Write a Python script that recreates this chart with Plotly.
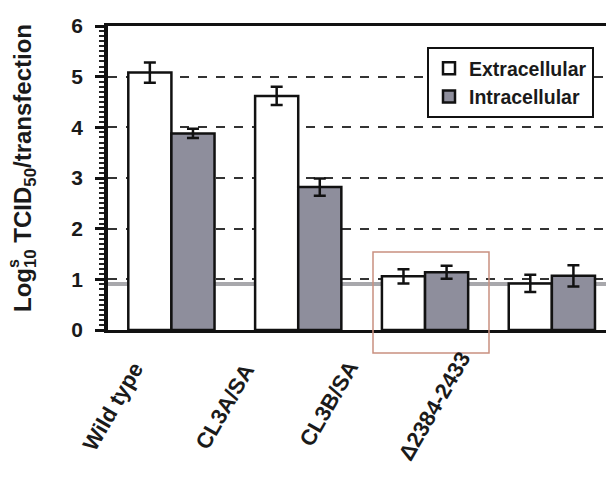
import plotly.graph_objects as go

categories = ["Wild type", "CL3A/SA", "CL3B/SA", "\u03942384-2433"]
extracellular = [5.08, 4.62, 1.06, 0.92]
extracellular_err = [0.2, 0.18, 0.14, 0.17]
intracellular = [3.88, 2.82, 1.14, 1.07]
intracellular_err = [0.09, 0.17, 0.13, 0.21]
y_ticks = [0, 1, 2, 3, 4, 5, 6]

FONT = "Arial, Liberation Sans, sans-serif"
OFF = 8  # page body margin of the browser
W, H = 614 - OFF, 491 - OFF
# plot area in page pixels: left 108, top 26, bottom 330, right at window edge
L, R, T, B = 108 - OFF, 0, 26 - OFF, H - (330 - OFF)
PW, PH = W - L - R, H - T - B


def px_x(px):
    return (px - OFF - L) / PW


def px_y(py):
    return (H - B - (py - OFF)) / PH


xidx = list(range(len(categories)))

fig = go.Figure()
fig.add_trace(go.Bar(
    name="Extracellular", x=xidx, y=extracellular,
    marker=dict(color="white", line=dict(color="#111", width=2.5)),
    error_y=dict(type="data", array=extracellular_err, color="#111", thickness=2.5, width=6),
))
fig.add_trace(go.Bar(
    name="Intracellular", x=xidx, y=intracellular,
    marker=dict(color="#8e8e9c", line=dict(color="#111", width=2.5)),
    error_y=dict(type="data", array=intracellular_err, color="#111", thickness=2.5, width=6),
))

# grey band near detection limit
fig.add_shape(type="line", xref="paper", yref="y", x0=0, x1=1, y0=0.91, y1=0.91,
              line=dict(color="#a8a8ac", width=4), layer="below")
# reddish highlight box around CL3B/SA
fig.add_shape(type="rect", xref="paper", yref="paper",
              x0=px_x(373), x1=px_x(489), y0=px_y(353), y1=px_y(252),
              line=dict(color="#c99080", width=1.5), layer="above")

# x category labels (offset from bars as in original)
label_end_px = [(151, 355), (262, 357), (366, 354), (478, 345)]
for cat, (lx, ly) in zip(categories, label_end_px):
    fig.add_annotation(text=cat, xref="paper", yref="paper", x=px_x(lx), y=px_y(ly),
                       xanchor="right", yanchor="top", textangle=-60, showarrow=False,
                       font=dict(family=FONT, size=22, color="#1a1a1a", weight="bold"))

# y title
fig.add_annotation(text="Log<sub>10</sub> TCID<sub>50</sub>/transfection", xref="paper", yref="paper",
                   x=px_x(24), y=px_y(168), xanchor="center", yanchor="middle", textangle=-90,
                   showarrow=False, font=dict(family=FONT, size=24, color="#1a1a1a", weight="bold"))
fig.add_annotation(text="s", xref="paper", yref="paper",
                   x=px_x(13), y=px_y(264), xanchor="center", yanchor="middle", textangle=-90,
                   showarrow=False, font=dict(family=FONT, size=16, color="#1a1a1a", weight="bold"))

fig.update_layout(
    width=W, height=H,
    margin=dict(l=L, r=R, t=T, b=B, pad=0, autoexpand=False),
    paper_bgcolor="white", plot_bgcolor="white",
    barmode="group", bargap=0.32, bargroupgap=0,
    font=dict(family=FONT, color="#1a1a1a"),
    showlegend=True,
    legend=dict(x=px_x(427), y=px_y(47), xanchor="left", yanchor="top",
                bgcolor="white", bordercolor="#111", borderwidth=2,
                font=dict(family=FONT, size=19.5, color="#1a1a1a", weight="bold"),
                itemwidth=30, tracegroupgap=0),
)
fig.update_xaxes(range=[-0.5, 3.49], showticklabels=False, ticks="",
                 showline=True, linecolor="#111", linewidth=2.5, mirror=True,
                 showgrid=False, zeroline=False, tickvals=xidx)
fig.update_yaxes(range=[0, 6], tickvals=y_ticks, ticks="outside", ticklen=9, tickwidth=2.5,
                 tickcolor="#111", showline=True, linecolor="#111", linewidth=3.5,
                 minor=dict(dtick=0.1, ticks="outside", ticklen=5, tickwidth=1.5, tickcolor="#222", showgrid=False),
                 showgrid=True, gridcolor="#333", gridwidth=2, griddash="dash",
                 zeroline=False, ticklabelstandoff=8,
                 tickfont=dict(family=FONT, size=21, color="#1a1a1a", weight="bold"))

fig.write_html("out.html")
